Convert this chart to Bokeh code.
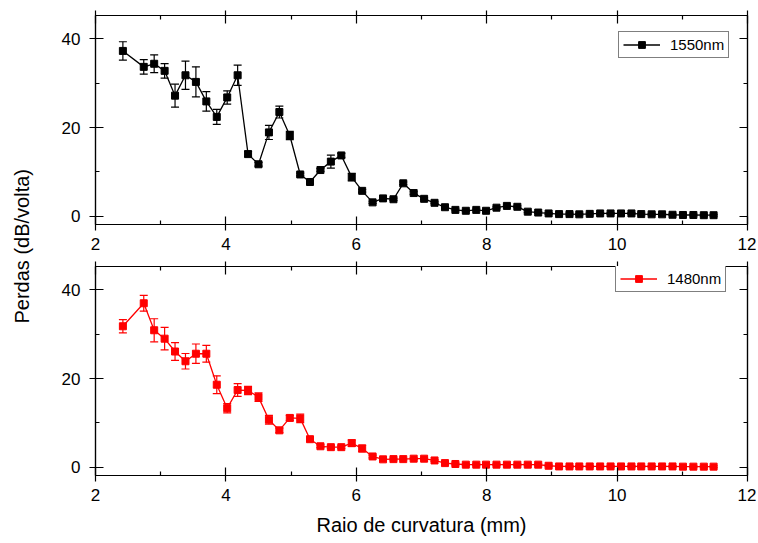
import numpy as np
from bokeh.plotting import figure
from bokeh.models import (ColumnDataSource, Whisker, TeeHead, Range1d, LinearAxis,
                          Legend, LegendItem, Label, FixedTicker)
from bokeh.layouts import row, column
from bokeh.embed import file_html
from bokeh.resources import INLINE

# ---------------- data ----------------
radius_mm = [2.42, 2.74, 2.90, 3.06, 3.22, 3.38, 3.54, 3.70, 3.86, 4.02, 4.18, 4.34,
             4.50, 4.66, 4.82, 4.98, 5.14, 5.29, 5.45, 5.61, 5.77, 5.93, 6.09, 6.25,
             6.41, 6.57, 6.72, 6.88, 7.04, 7.20, 7.36, 7.52, 7.68, 7.84, 7.99, 8.15,
             8.31, 8.47, 8.63, 8.79, 8.95, 9.11, 9.27, 9.42, 9.58, 9.74, 9.90, 10.06,
             10.22, 10.37, 10.53, 10.69, 10.85, 11.01, 11.17, 11.33, 11.48]

loss_1550 = [37.3, 33.7, 34.4, 32.8, 27.2, 31.8, 30.3, 25.9, 22.4, 26.8, 31.8, 14.0,
             11.7, 18.9, 23.5, 18.2, 9.4, 7.7, 10.4, 12.3, 13.7, 8.8, 5.7, 3.1,
             4.0, 3.8, 7.4, 5.2, 3.9, 3.0, 2.0, 1.4, 1.2, 1.4, 1.2, 1.9,
             2.3, 2.1, 1.0, 0.8, 0.6, 0.45, 0.45, 0.4, 0.5, 0.6, 0.6, 0.6,
             0.6, 0.45, 0.4, 0.4, 0.3, 0.25, 0.25, 0.2, 0.2]
err_1550 = [2.07, 1.65, 2.0, 1.65, 2.6, 3.2, 3.4, 2.2, 1.7, 1.5, 2.3, 0.6,
            0.4, 1.6, 1.35, 0.95, 0.3, 0.3, 0.3, 1.45, 0.45, 0.85, 0.3, 0.25,
            0.25, 0.25, 0.3, 0.3, 0.2, 0.2, 0.2, 0.2, 0.2, 0.2, 0.2, 0.2,
            0.2, 0.2, 0.2, 0.2, 0.2, 0.2, 0.2, 0.2, 0.2, 0.2, 0.2, 0.2,
            0.2, 0.2, 0.2, 0.2, 0.2, 0.2, 0.2, 0.2, 0.2]

loss_1480 = [31.8, 37.0, 30.9, 29.0, 26.1, 23.9, 25.6, 25.6, 18.6, 13.3, 17.4, 17.3,
             15.8, 10.7, 8.3, 11.1, 11.0, 6.3, 4.7, 4.5, 4.5, 5.4, 4.2, 2.4,
             1.75, 1.8, 1.8, 1.9, 1.9, 1.5, 0.9, 0.7, 0.55, 0.55, 0.55, 0.55,
             0.55, 0.55, 0.55, 0.55, 0.3, 0.15, 0.15, 0.15, 0.15, 0.15, 0.15, 0.15,
             0.15, 0.15, 0.15, 0.15, 0.15, 0.1, 0.1, 0.1, 0.1]
err_1480 = [1.5, 1.8, 2.6, 2.55, 2.0, 1.75, 2.2, 1.9, 2.0, 1.05, 1.45, 0.95,
            0.95, 1.0, 0.5, 0.6, 0.95, 0.4, 0.3, 0.3, 0.3, 0.75, 0.75, 0.3,
            0.2, 0.2, 0.2, 0.2, 0.2, 0.2, 0.2, 0.2, 0.2, 0.2, 0.2, 0.2,
            0.2, 0.2, 0.2, 0.2, 0.2, 0.2, 0.2, 0.2, 0.2, 0.2, 0.2, 0.2,
            0.2, 0.2, 0.2, 0.2, 0.2, 0.2, 0.2, 0.2, 0.2]

x_ticks = [2, 4, 6, 8, 10, 12]
y_ticks = [0, 20, 40]
x_title = "Raio de curvatura (mm)"
y_title = "Perdas (dB/volta)"

FONT = "Liberation Sans"
TOTAL_H = 541


def minor_of(ticks):
    return [(a + b) / 2 for a, b in zip(ticks[:-1], ticks[1:])]


def style_axis(ax, ticks, labels=True, tick_out=6, standoff=8):
    ax.ticker = FixedTicker(ticks=ticks, minor_ticks=minor_of(ticks))
    ax.axis_line_color = "black"
    ax.axis_line_width = 1.2
    ax.major_tick_line_color = "black"
    ax.major_tick_line_width = 1.2
    ax.minor_tick_line_color = "black"
    ax.minor_tick_line_width = 1.2
    ax.major_tick_in = 8
    ax.major_tick_out = tick_out
    ax.minor_tick_in = 4
    ax.minor_tick_out = 0
    ax.major_label_text_font = FONT
    if labels:
        ax.major_label_text_color = "black"
        ax.major_label_text_font_size = "17px"
        ax.major_label_standoff = standoff
    else:
        # mirrored axis: ticks only, labels not painted
        ax.major_label_text_color = None
        ax.major_label_text_font_size = "1px"
        ax.major_label_standoff = 0


def panel(loss, err, color, label, height, top_border, bottom_border, legend_xy, xlabel=None):
    p = figure(width=708, height=height, output_backend="svg", toolbar_location=None,
               x_range=Range1d(2, 12), y_range=Range1d(-1.9, 45.3),
               x_axis_type=None, y_axis_type=None,
               min_border_left=47, min_border_right=9,
               min_border_top=top_border, min_border_bottom=bottom_border)
    p.grid.visible = False
    p.outline_line_color = "black"
    p.outline_line_width = 1.2
    p.background_fill_color = "white"
    p.border_fill_color = "white"

    xa = LinearAxis()
    style_axis(xa, x_ticks, labels=True, tick_out=6, standoff=7)
    ya = LinearAxis()
    style_axis(ya, y_ticks, labels=True, tick_out=6, standoff=9)
    ra = LinearAxis()
    style_axis(ra, y_ticks, labels=False, tick_out=0)
    ta = LinearAxis()
    style_axis(ta, x_ticks, labels=False, tick_out=5)
    if xlabel:
        xa.axis_label = xlabel
        xa.axis_label_text_font = FONT
        xa.axis_label_text_font_size = "20px"
        xa.axis_label_text_font_style = "normal"
        xa.axis_label_text_color = "black"
        xa.axis_label_standoff = 10
    p.add_layout(xa, "below")
    p.add_layout(ya, "left")
    p.add_layout(ra, "right")
    p.add_layout(ta, "above")

    lo = [v - e for v, e in zip(loss, err)]
    hi = [v + e for v, e in zip(loss, err)]
    src = ColumnDataSource(dict(x=radius_mm, y=loss, lower=lo, upper=hi))

    wh = Whisker(source=src, base="x", upper="upper", lower="lower",
                 line_color=color, line_width=1.2,
                 upper_head=TeeHead(size=8, line_color=color, line_width=1.2),
                 lower_head=TeeHead(size=8, line_color=color, line_width=1.2))
    p.add_layout(wh)
    ln = p.line("x", "y", source=src, line_color=color, line_width=1.3)
    sc = p.scatter("x", "y", source=src, marker="square", size=7,
                   fill_color=color, line_color=color)

    leg = Legend(items=[LegendItem(label=label, renderers=[ln, sc])],
                 location=legend_xy, orientation="vertical",
                 label_text_font=FONT, label_text_font_size="15px",
                 label_text_color="black",
                 glyph_width=37, glyph_height=17, label_height=17,
                 label_standoff=10, padding=4, spacing=0, margin=0,
                 border_line_color="black", border_line_width=1,
                 background_fill_color="white", background_fill_alpha=1.0)
    p.add_layout(leg, "center")
    return p


top = panel(loss_1550, err_1550, "black", "1550nm", height=258,
            top_border=15, bottom_border=34, legend_xy=(523, 166))
bottom = panel(loss_1480, err_1480, "#ff0000", "1480nm", height=TOTAL_H - 258,
               top_border=8, bottom_border=66, legend_xy=(520, 183), xlabel=x_title)

# narrow figure that carries the shared y-axis title
lab = figure(width=48, height=TOTAL_H, output_backend="svg", toolbar_location=None,
             x_range=Range1d(0, 48), y_range=Range1d(0, TOTAL_H),
             x_axis_type=None, y_axis_type=None, min_border=0)
lab.grid.visible = False
lab.outline_line_color = None
lab.add_layout(Label(x=21, y=TOTAL_H - 323, text=y_title, angle=np.pi / 2,
                     text_align="left", text_baseline="middle",
                     text_font=FONT, text_font_size="20px", text_color="black"))

layout = row(lab, column(top, bottom, spacing=0), spacing=0)

open("out.html", "w").write(file_html(layout, INLINE))
